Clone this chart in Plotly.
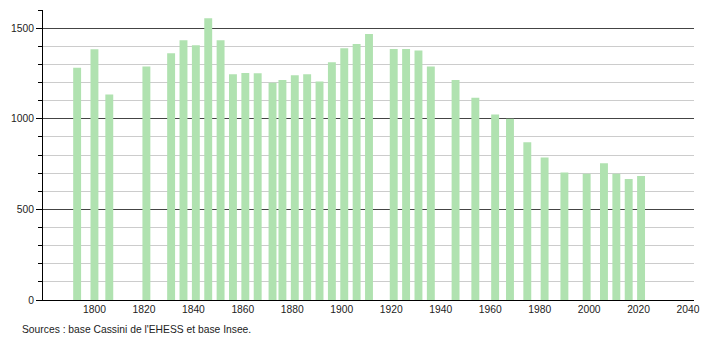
import plotly.graph_objects as go

years = [1793, 1800, 1806, 1821, 1831, 1836, 1841, 1846, 1851, 1856, 1861, 1866,
         1872, 1876, 1881, 1886, 1891, 1896, 1901, 1906, 1911, 1921, 1926, 1931,
         1936, 1946, 1954, 1962, 1968, 1975, 1982, 1990, 1999, 2006, 2011, 2016, 2021]
population = [1282, 1383, 1134, 1288, 1361, 1433, 1405, 1555, 1433, 1245, 1252, 1251,
              1199, 1214, 1240, 1245, 1205, 1312, 1389, 1413, 1468, 1385, 1385, 1376,
              1288, 1214, 1116, 1024, 1000, 870, 786, 703, 697, 754, 697, 668, 684]
x_ticks = [1800, 1820, 1840, 1860, 1880, 1900, 1920, 1940, 1960, 1980, 2000, 2020, 2040]
y_ticks = [0, 500, 1000, 1500]
source_text = "Sources : base Cassini de l'EHESS et base Insee."

fig = go.Figure()
fig.add_trace(go.Bar(
    x=years, y=population, width=3.2,
    marker=dict(color="rgb(176,226,176)", line=dict(width=0)),
    hoverinfo="x+y",
))

fig.update_layout(
    width=710, height=340,
    margin=dict(l=43, r=10, t=10, b=40),
    paper_bgcolor="white", plot_bgcolor="white",
    showlegend=False,
    font=dict(family="Liberation Sans, Arial, sans-serif", size=10.3, color="#222"),
    xaxis=dict(
        range=[1779.2, 2042.4],
        tickvals=x_ticks, ticktext=[str(v) for v in x_ticks],
        showgrid=False, zeroline=False,
        showline=True, linecolor="black", linewidth=1,
        ticks="", tickfont=dict(size=10.3, color="#222"),
    ),
    yaxis=dict(
        range=[0, 1600],
        tickvals=y_ticks, ticktext=[str(v) for v in y_ticks],
        showgrid=True, gridcolor="#444", gridwidth=1,
        zeroline=False,
        showline=True, linecolor="black", linewidth=1,
        ticks="outside", ticklen=6, tickcolor="black", tickwidth=1,
        tickfont=dict(size=10.3, color="#222"),
        minor=dict(dtick=100, showgrid=True, gridcolor="#cccccc", gridwidth=1,
                   ticks="outside", ticklen=4, tickcolor="black"),
    ),
    annotations=[dict(
        text=source_text, xref="paper", yref="paper",
        x=-0.035, y=-0.103, xanchor="left", yanchor="middle",
        showarrow=False, font=dict(size=10.3, color="#222"),
    )],
)

fig.write_html("out.html")
